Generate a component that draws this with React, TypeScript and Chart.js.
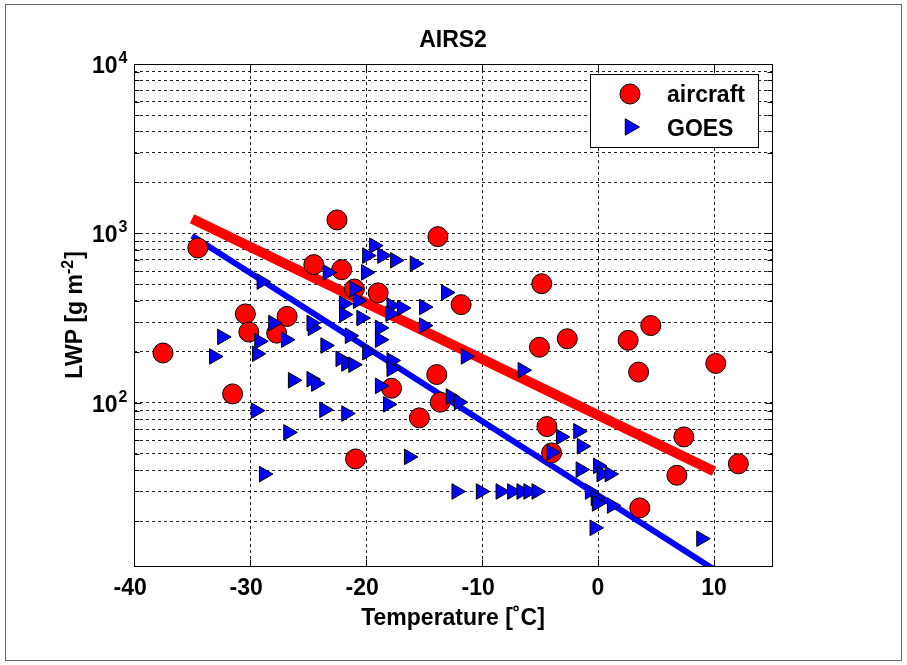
import React, { useEffect, useRef } from "react";
import { Chart, registerables } from "chart.js";

Chart.register(...registerables);

const FONT = '"Liberation Sans", Arial, Helvetica, sans-serif';

const titleText = "AIRS2";
const xLabelText = "Temperature [˚C]";
const yLabelMain = "LWP [g m";
const yLabelSup = "-2";
const yLabelEnd = "]";
const legendLabels = ["aircraft", "GOES"];

const xTicks = [-40, -30, -20, -10, 0, 10];
const yDecadeTicks = [100, 1000, 10000];
const yDecadeExp = ["2", "3", "4"];
const yGridTicks = [
  20, 30, 40, 50, 60, 70, 80, 90, 100, 200, 300, 400, 500, 600, 700, 800, 900,
  1000, 2000, 3000, 4000, 5000, 6000, 7000, 8000, 9000, 10000,
];

const aircraftT = [
  -37.5, -34.5, -30.4, -30.1, -31.5, -26.8, -27.7, -24.5, -22.1, -22.5, -21.0,
  -18.95, -13.8, -11.8, -4.85, -5.05, -2.65, 2.6, 3.5, 4.55, 10.15, -13.9,
  -17.8, -13.6, -15.4, -4.4, -20.9, -4.0, 7.4, 6.8, 12.1, 3.6,
];
const aircraftLWP = [
  197, 821, 335, 262, 113, 324, 258, 655, 611, 1202, 470, 446, 958, 380, 505,
  213, 239, 234, 152, 286, 171, 147, 122, 101, 81.6, 72.5, 46.7, 50.7, 63,
  37.4, 43.7, 24.0,
];

const goesT = [
  -29.0, -32.4, -33.1, -28.0, -29.2, -29.4, -26.9, -24.6, -24.7, -26.3, -24.7,
  -24.3, -29.5, -26.7, -28.8, -23.6, -23.5, -23.3, -21.7, -21.0, -20.7, -21.9,
  -21.9, -20.4, -21.4, -22.2, -21.7, -21.1, -19.9, -19.3, -19.9, -18.6, -17.5,
  -15.8, -20.0, -17.8, -16.9, -17.9, -15.0, -15.0, -18.8, -18.8, -17.8, -17.8,
  -18.8, -18.1, -13.1, -11.4, -6.5, -12.7, -12.0, -3.2, -1.7, -1.4, -4.0, -1.5,
  0.0, 0.3, 1.0, -12.2, -10.1, -8.4, -7.4, -6.6, -6.0, -5.3, -16.3, -0.7, -0.2,
  -0.1, 1.2, -0.3, 8.9,
];
const goesLWP = [
  520, 245, 188, 296, 231, 195, 236, 277, 296, 136, 138, 130, 90, 67, 38, 91,
  218, 589, 86.5, 471, 401, 385, 332, 317, 249, 182, 171, 168, 199, 847, 740,
  740, 694, 663, 589, 375, 363, 336, 368, 286, 277, 236, 178, 159, 126, 98, 448,
  188, 156, 109, 101, 63, 68, 55.5, 51, 40.4, 42.5, 38, 38, 30, 30, 30, 30, 30,
  30, 30, 48, 30, 27.5, 25.5, 24.8, 18.3, 15.8,
];

const fitT = [-35, 10];
const aircraftFit = [1220, 39.5];
const goesFit = [970, 10.4];

const RED = "#ff0000";
const BLUE = "#0000ff";

function boldFont(size: number) {
  return `bold ${size}px ${FONT}`;
}

const decorPlugin = {
  id: "matlabDecor",
  afterDraw(chart: any) {
    const { ctx, chartArea: a, scales } = chart;
    const xs = scales.x;
    const ys = scales.y;
    const L = Math.round(a.left) + 0.5;
    const R = Math.round(a.right) + 0.5;
    const T = Math.round(a.top) + 0.5;
    const B = Math.round(a.bottom) + 0.5;
    ctx.save();
    ctx.setLineDash([]);
    ctx.strokeStyle = "#000";
    ctx.lineWidth = 1;

    // tick marks inside
    ctx.beginPath();
    for (const v of yGridTicks) {
      const y = Math.round(ys.getPixelForValue(v)) + 0.5;
      const len = yDecadeTicks.includes(v) ? 7 : 5;
      ctx.moveTo(L, y);
      ctx.lineTo(L + len, y);
      ctx.moveTo(R, y);
      ctx.lineTo(R - len, y);
    }
    for (const v of xTicks) {
      const x = Math.round(xs.getPixelForValue(v)) + 0.5;
      ctx.moveTo(x, B);
      ctx.lineTo(x, B - 7);
      ctx.moveTo(x, T);
      ctx.lineTo(x, T + 7);
    }
    ctx.stroke();

    // axes box
    ctx.strokeStyle = "#000";
    ctx.strokeRect(L, T, R - L, B - T);

    // outer figure frame
    ctx.strokeStyle = "#666";
    ctx.strokeRect(5.5, 4.5, 896, 656);

    ctx.fillStyle = "#000";
    // x tick labels: digits centred, minus sign hanging to the left
    ctx.font = boldFont(23);
    ctx.textBaseline = "alphabetic";
    for (const v of xTicks) {
      const x = xs.getPixelForValue(v);
      const digits = String(Math.abs(v));
      const w = ctx.measureText(digits).width;
      ctx.textAlign = "left";
      ctx.fillText(digits, x - w / 2, B + 28);
      if (v < 0) {
        ctx.textAlign = "right";
        ctx.fillText("-", x - w / 2, B + 28);
      }
    }

    // y tick labels 10^n
    yDecadeTicks.forEach((v, i) => {
      const y = ys.getPixelForValue(v);
      ctx.font = boldFont(16);
      ctx.textAlign = "right";
      const expW = ctx.measureText(yDecadeExp[i]).width;
      const right = L - 7;
      ctx.fillText(yDecadeExp[i], right, y - 1);
      ctx.font = boldFont(23);
      ctx.fillText("10", right - expW - 1, y + 9);
    });

    // title
    ctx.font = boldFont(23);
    ctx.textAlign = "center";
    const cx = (a.left + a.right) / 2;
    ctx.fillText(titleText, cx, 47);

    // x label
    ctx.fillText(xLabelText, cx, 625);

    // y label (rotated)
    ctx.save();
    const cy = (a.top + a.bottom) / 2;
    ctx.translate(82, cy);
    ctx.rotate(-Math.PI / 2);
    ctx.textAlign = "left";
    ctx.font = boldFont(23);
    const w1 = ctx.measureText(yLabelMain).width;
    const w3 = ctx.measureText(yLabelEnd).width;
    ctx.font = boldFont(16);
    const w2 = ctx.measureText(yLabelSup).width;
    const total = w1 + w2 + w3 + 1;
    let sx = -total / 2;
    ctx.font = boldFont(23);
    ctx.fillText(yLabelMain, sx, 0);
    sx += w1;
    ctx.font = boldFont(16);
    ctx.fillText(yLabelSup, sx, -9);
    sx += w2 + 1;
    ctx.font = boldFont(23);
    ctx.fillText(yLabelEnd, sx, 0);
    ctx.restore();

    // legend
    const lx = 590.5, ly = 74.5, lw = 168, lh = 73;
    ctx.fillStyle = "#fff";
    ctx.fillRect(lx, ly, lw, lh);
    ctx.strokeStyle = "#000";
    ctx.lineWidth = 1;
    ctx.strokeRect(lx, ly, lw, lh);

    ctx.beginPath();
    ctx.arc(630, 94, 10, 0, Math.PI * 2);
    ctx.fillStyle = RED;
    ctx.fill();
    ctx.strokeStyle = "#000";
    ctx.stroke();

    const r = 9.5, tx = 630, ty = 127;
    ctx.beginPath();
    ctx.moveTo(tx + r, ty);
    ctx.lineTo(tx - r / 2, ty - r * 0.866);
    ctx.lineTo(tx - r / 2, ty + r * 0.866);
    ctx.closePath();
    ctx.fillStyle = BLUE;
    ctx.fill();
    ctx.stroke();

    ctx.fillStyle = "#000";
    ctx.font = boldFont(23);
    ctx.textAlign = "left";
    ctx.fillText(legendLabels[0], 667, 102);
    ctx.fillText(legendLabels[1], 667, 136);

    ctx.restore();
  },
};

export default function App() {
  const canvasRef = useRef<HTMLCanvasElement | null>(null);

  useEffect(() => {
    const canvas = canvasRef.current;
    if (!canvas) return;
    const chart = new Chart(canvas, {
      type: "scatter",
      data: {
        datasets: [
          {
            type: "scatter",
            label: legendLabels[1],
            data: goesT.map((t, i) => ({ x: t, y: goesLWP[i] })),
            pointStyle: "triangle",
            rotation: 90,
            pointRadius: 9,
            backgroundColor: BLUE,
            borderColor: "#000",
            borderWidth: 1,
            order: 0,
          } as any,
          {
            type: "scatter",
            label: legendLabels[0],
            data: aircraftT.map((t, i) => ({ x: t, y: aircraftLWP[i] })),
            pointStyle: "circle",
            pointRadius: 10,
            backgroundColor: RED,
            borderColor: "#000",
            borderWidth: 1,
            order: 1,
          } as any,
          {
            type: "line",
            label: "aircraft fit",
            data: fitT.map((t, i) => ({ x: t, y: aircraftFit[i] })),
            borderColor: RED,
            borderWidth: 10,
            pointRadius: 0,
            showLine: true,
            fill: false,
            borderCapStyle: "butt",
            order: 2,
          } as any,
          {
            type: "line",
            label: "GOES fit",
            data: fitT.map((t, i) => ({ x: t, y: goesFit[i] })),
            borderColor: BLUE,
            borderWidth: 6,
            pointRadius: 0,
            showLine: true,
            fill: false,
            borderCapStyle: "butt",
            order: 3,
          } as any,
        ],
      },
      options: {
        responsive: false,
        animation: false,
        devicePixelRatio: 1,
        layout: { padding: { left: 0, top: 64, right: 135, bottom: 0 } },
        plugins: {
          legend: { display: false },
          title: { display: false },
          tooltip: { enabled: false },
        },
        scales: {
          x: {
            type: "linear",
            min: -40,
            max: 15,
            afterBuildTicks: (s: any) => {
              s.ticks = xTicks.map((v) => ({ value: v }));
            },
            afterFit: (s: any) => {
              s.height = 99;
            },
            ticks: { display: false },
            grid: { color: "#222", lineWidth: 1, drawTicks: false },
            border: { display: false, dash: [3, 3] },
          },
          y: {
            type: "logarithmic",
            min: 10.9,
            max: 10000,
            afterBuildTicks: (s: any) => {
              s.ticks = yGridTicks.map((v) => ({ value: v }));
            },
            afterFit: (s: any) => {
              s.width = 134;
            },
            ticks: { display: false },
            grid: { color: "#222", lineWidth: 1, drawTicks: false },
            border: { display: false, dash: [3, 3] },
          },
        },
      } as any,
      plugins: [decorPlugin],
    });
    return () => chart.destroy();
  }, []);

  return (
    <div
      style={{
        position: "fixed",
        left: 0,
        top: 0,
        width: 907,
        height: 665,
        background: "#fff",
      }}
    >
      <canvas ref={canvasRef} width={907} height={665} />
    </div>
  );
}
